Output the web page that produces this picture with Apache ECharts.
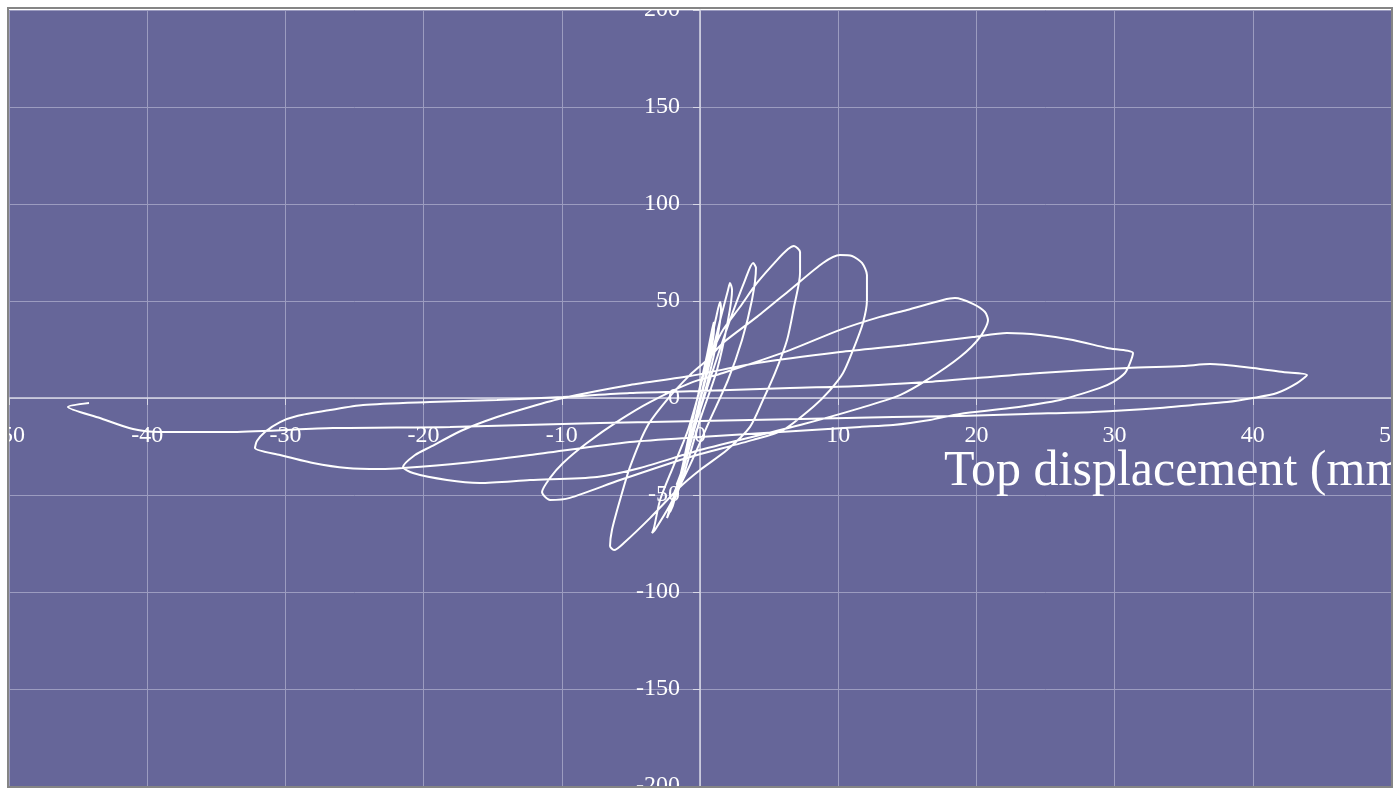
<!DOCTYPE html>
<html><head><meta charset="utf-8">
<script src="https://cdn.jsdelivr.net/npm/echarts@6/dist/echarts.min.js"></script>
<style>html,body{margin:0;padding:0;background:#fff;overflow:hidden}#c{width:1400px;height:791px}</style>
</head><body><div id="c"></div>
<script>
// Top displacement (mm) and force, traced in drawing order
const displacement = [
0,-0.2,-0.7,-1.3,-1.7,-1.45,-0.87,-0.14,0.51,0.87,1.01,1.01,0.65,0,-0.72,-1.45,-1.88,
-1.59,-1.01,-0.22,0.58,1.16,1.45,1.52,1.23,0.58,-0.22,-1.23,-2.17,
-1.95,-1.3,-0.36,0.58,1.45,2.03,2.17,2.32,2.03,1.23,0,-1.3,-2.39,
-2.17,-1.3,-0.22,0.94,2.17,3.26,3.84,4.05,3.76,3.04,2.03,0.72,-0.72,-2.17,-3.26,-3.47,
-3.33,-2.89,-1.95,-0.94,-0.22,0.36,0.94,1.66,2.89,4.12,5.57,6.37,6.8,
7.24,7.24,6.8,6.3,5.43,4.56,3.62,1.95,0,-1.45,-3.62,-5.43,-6.22,-6.51,
-6.37,-5.79,-5.07,-3.84,-2.39,-0.72,0.51,1.66,4.12,6.51,8.9,10.13,11.0,
11.72,12.08,12.08,11.79,11.07,10.35,9.41,8.18,6.01,3.84,-0.94,-5.79,-9.41,-10.85,-11.43,
-10.85,-9.91,-8.18,-5.79,-3.62,-0.72,1.66,6.51,10.13,13.02,14.98,17.58,18.45,
19.75,20.62,20.84,20.26,18.81,16.43,14.47,11.58,7.24,0,-4.34,-7.45,-12.3,-15.92,-18.31,-20.77,-21.49,
-20.62,-19.54,-17.15,-14.69,-12.3,-9.91,-5.07,-0.72,4.12,10.13,14.98,19.75,22.21,24.6,26.99,29.45,31.33,
31.11,30.75,29.88,28.94,26.05,22.43,18.81,16.64,13.97,11.58,5.79,0,-5.07,-12.3,-17.15,-21.49,-23.15,-25.54,-28.0,-30.39,-32.2,
-32.06,-31.48,-30.39,-29.16,-26.77,-24.38,-19.54,-14.69,-9.91,-5.07,0,6.51,11.58,16.43,20.04,24.6,30.9,34.95,36.9,40.01,42.19,43.92,
43.2,41.75,40.01,38.13,35.67,33.29,28.44,23.66,18.81,13.97,7.24,0,-7.24,-18.09,-26.56,-33.79,-39.07,-41.03,-43.42,-45.73,-44.21
];
const force = [
0,-6.2,-21.6,-37.1,-44.8,-41.2,-21.6,1.5,22.2,35.1,39.2,35.1,19.6,-1.0,-21.6,-41.2,-49.0,
-44.8,-26.8,-1.0,22.2,41.2,49.5,45.4,29.9,9.3,-11.3,-37.1,-58.8,
-55.2,-37.1,-11.3,14.4,39.9,55.7,59.3,55.7,40.2,14.4,-11.3,-42.3,-61.9,
-56.7,-37.1,-11.3,14.4,40.2,60.8,69.6,67.0,50.5,29.9,9.3,-11.3,-34.5,-55.2,-68.0,-69.6,
-67.0,-52.6,-35.6,-18.0,-1.0,14.4,24.7,35.1,46.9,59.3,71.1,76.8,78.4,
75.3,64.4,46.9,29.9,12.9,-1.0,-14.9,-26.8,-37.1,-45.9,-61.9,-74.2,-78.4,-76.3,
-68.0,-52.6,-35.6,-14.9,-1.0,11.9,19.6,28.4,41.8,55.7,69.6,73.7,73.2,
69.6,63.4,50.5,38.7,24.7,12.9,4.1,-4.6,-16.5,-21.6,-30.9,-42.3,-51.5,-52.6,-48.5,
-41.2,-33.5,-23.2,-11.3,-2.1,7.7,12.9,24.7,35.1,41.8,45.4,50.5,51.5,
48.5,44.3,40.2,31.4,21.1,9.3,1.5,-5.2,-13.9,-26.8,-36.1,-40.7,-42.3,-43.8,-42.3,-38.7,-35.6,
-29.4,-25.3,-16.5,-9.8,-4.6,0,6.7,11.3,18.0,23.7,27.3,31.4,33.5,32.5,29.9,25.8,23.2,
18.0,12.9,8.2,5.2,-1.0,-5.2,-8.2,-11.3,-13.9,-14.9,-17.5,-20.1,-22.7,-29.4,-33.5,-36.1,-36.6,-36.1,-33.5,-29.4,-25.8,
-22.2,-17.5,-12.4,-9.3,-6.2,-3.6,-2.1,-1.0,0.5,2.6,3.6,5.2,6.2,8.2,10.3,12.9,15.5,16.5,17.5,15.5,13.4,11.9,
7.7,2.6,0,-2.1,-3.6,-5.2,-7.2,-8.2,-9.3,-9.8,-10.8,-11.9,-12.9,-14.9,-15.5,-17.5,-17.5,-16.0,-10.3,-4.6,-2.6
];
const xTicks = [-50,-40,-30,-20,-10,0,10,20,30,40,50];
const yTicks = [-200,-150,-100,-50,0,50,100,150,200];
const xTitle = 'Top displacement (mm)';

const pts = displacement.map((d, i) => [d, force[i]]);
const W = 1400, H = 791;
const G = {left: 9, right: 9, top: 10, bottom: 5};
const plotW = W - G.left - G.right, plotH = H - G.top - G.bottom;
const xMin = xTicks[0], xMax = xTicks[xTicks.length-1];
const yMin = yTicks[0], yMax = yTicks[yTicks.length-1];
// shift axes so they cross at the zero point
const xAxisOffset = -plotH * (0 - yMin) / (yMax - yMin);
const yAxisOffset = -plotW * (0 - xMin) / (xMax - xMin);

const chart = echarts.init(document.getElementById('c'), null, {renderer: 'canvas'});
const labelFont = {color: '#ffffff', fontFamily: '"Liberation Serif","Times New Roman",serif', fontSize: 24};
const axisCol = '#d8d8e6';
const gridCol = '#9c9cc0';
chart.setOption({
  animation: false,
  backgroundColor: '#ffffff',
  grid: Object.assign({containLabel: false, outerBoundsMode: 'none', show: true, backgroundColor: '#666699', borderColor: '#858585', borderWidth: 0}, G),
  xAxis: {
    type: 'value', min: xMin, max: xMax, interval: xTicks[1]-xTicks[0],
    position: 'bottom', offset: xAxisOffset,
    axisLine: {onZero: false, lineStyle: {color: axisCol, width: 1.5}},
    axisTick: {show: true, length: 7, lineStyle: {color: axisCol}},
    axisLabel: Object.assign({margin: 26, showMinLabel: true, showMaxLabel: true, hideOverlap: false}, labelFont),
    splitLine: {show: true, lineStyle: {color: gridCol, width: 1}}
  },
  yAxis: {
    type: 'value', min: yMin, max: yMax, interval: yTicks[1]-yTicks[0],
    position: 'left', offset: yAxisOffset,
    axisLine: {onZero: false, lineStyle: {color: axisCol, width: 1.5}},
    axisTick: {show: true, length: 7, lineStyle: {color: axisCol}},
    axisLabel: Object.assign({margin: 20, showMinLabel: true, showMaxLabel: true, hideOverlap: false}, labelFont),
    splitLine: {show: true, lineStyle: {color: gridCol, width: 1}}
  },
  graphic: [
    {type: 'text', x: 944, y: 472, z: 100,
     style: {text: xTitle, fill: '#ffffff', font: '50px "Liberation Serif","Times New Roman",serif', align: 'left', verticalAlign: 'middle'}},
    // frame: white margins outside the plot, clipping labels like the original
    {type: 'rect', z: 200, shape: {x: 0, y: 0, width: 8, height: H}, style: {fill: '#ffffff'}},
    {type: 'rect', z: 200, shape: {x: 1392, y: 0, width: 8, height: H}, style: {fill: '#ffffff'}},
    {type: 'rect', z: 200, shape: {x: 0, y: 0, width: W, height: 8}, style: {fill: '#ffffff'}},
    {type: 'rect', z: 201, shape: {x: 8, y: 8, width: 1384, height: 779}, style: {fill: 'none', stroke: '#858585', lineWidth: 2}}
  ],
  series: [{
    type: 'line', data: pts, showSymbol: false, smooth: 0.25,
    lineStyle: {color: '#ffffff', width: 2}, clip: false
  }]
});
</script></body></html>
